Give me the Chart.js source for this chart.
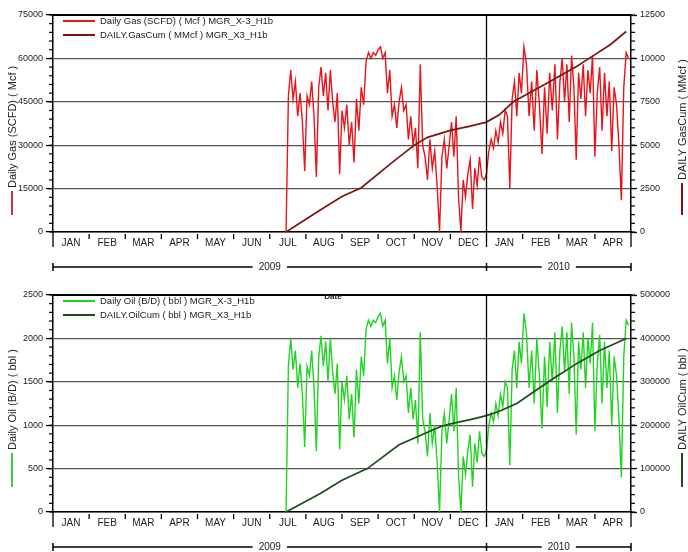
<!DOCTYPE html>
<html>
<head>
<meta charset="utf-8">
<script src="https://cdn.jsdelivr.net/npm/chart.js@4.4.1/dist/chart.umd.min.js"></script>
<style>
  html, body { margin: 0; padding: 0; background: #fff; }
  #wrap { position: relative; width: 688px; height: 552px; overflow: hidden; }
  #wrap canvas { position: absolute; left: 0; }
  #gasChart { top: 0; }
  #oilChart { top: 276px; }
</style>
</head>
<body>
<div id="wrap">
  <canvas id="gasChart" width="688" height="276"></canvas>
  <canvas id="oilChart" width="688" height="276"></canvas>
</div>
<script>
// Month slots along the time axis: Jan 2009 .. Apr 2010
const monthLabels = ['JAN','FEB','MAR','APR','MAY','JUN','JUL','AUG','SEP','OCT','NOV','DEC','JAN','FEB','MAR','APR'];
const yearLabels = ['2009', '2010'];

// Daily rates, one value every second day from the start date
const dailyStart = '2009-07-15';
const dailyStepDays = 2;

// Daily gas (Mcf)
const gasDaily = [
  // Jul 2009
  0, 47000, 56000, 46000, 52000, 40000, 48000, 38000, 21000,
  // Aug
  47000, 44000, 52000, 40000, 19000, 50000, 57000, 47000, 55000, 42000, 56000, 45000, 38000, 48000, 20000,
  // Sep
  42000, 36000, 44000, 30000, 38000, 24000, 46000, 35000, 50000, 44000, 59000, 62000, 60000, 62000, 61000,
  // Oct
  63000, 64000, 60000, 62000, 48000, 56000, 40000, 44000, 36000, 45000, 50000, 42000, 44000, 32000, 40000, 30000,
  // Nov
  36000, 22000, 58000, 30000, 26000, 18000, 32000, 22000, 28000, 16000, 0, 26000, 32000, 22000, 30000,
  // Dec
  38000, 26000, 40000, 12000, 0, 18000, 12000, 20000, 25000, 8000, 22000, 16000, 26000, 19000, 18000,
  // Jan 2010
  20000, 28000, 32000, 29000, 35000, 31000, 38000, 34000, 42000, 40000, 15000, 46000, 52000, 40000, 55000, 48000,
  // Feb
  64000, 58000, 40000, 52000, 35000, 56000, 44000, 27000, 50000, 34000, 55000, 42000, 58000, 32000,
  // Mar
  52000, 60000, 45000, 58000, 38000, 61000, 50000, 25000, 55000, 46000, 58000, 40000, 56000, 48000, 61000,
  // Apr
  26000, 48000, 57000, 35000, 55000, 40000, 52000, 28000, 50000, 44000, 30000, 11000, 50000, 62000, 60000
];

// Daily oil (bbl)
const oilDaily = [
  // Jul 2009
  0, 1680, 2000, 1640, 1860, 1430, 1710, 1360, 750,
  // Aug
  1680, 1570, 1860, 1430, 700, 1790, 2030, 1680, 1960, 1500, 2000, 1610, 1360, 1710, 720,
  // Sep
  1500, 1290, 1570, 1070, 1360, 860, 1640, 1250, 1790, 1570, 2110, 2210, 2140, 2210, 2180,
  // Oct
  2250, 2290, 2140, 2210, 1710, 2000, 1430, 1570, 1290, 1610, 1790, 1500, 1570, 1140, 1430, 1070,
  // Nov
  1290, 790, 2070, 1070, 930, 640, 1140, 790, 1000, 570, 0, 930, 1140, 790, 1070,
  // Dec
  1360, 930, 1430, 430, 0, 640, 430, 710, 890, 290, 790, 570, 930, 680, 640,
  // Jan 2010
  710, 1000, 1140, 1040, 1250, 1110, 1360, 1210, 1500, 1430, 540, 1640, 1860, 1430, 1960, 1710,
  // Feb
  2290, 2070, 1430, 1860, 1250, 2000, 1570, 960, 1790, 1210, 1960, 1500, 2070, 1140,
  // Mar
  1860, 2140, 1610, 2070, 1360, 2180, 1790, 890, 1960, 1640, 2070, 1430, 2000, 1710, 2180,
  // Apr
  930, 1710, 2040, 1250, 1960, 1430, 1860, 1000, 1790, 1570, 1070, 400, 1790, 2210, 2150
];

// Cumulative gas (MMcf)
const gasCumDates = ['2009-07-15','2009-08-13','2009-09-01','2009-09-17','2009-10-11','2009-11-01','2009-11-12',
  '2009-12-01','2009-12-18','2010-01-01','2010-01-12','2010-01-24','2010-02-17','2010-03-17','2010-03-27',
  '2010-04-14','2010-04-27'];
const gasCum = [0, 1250, 2050, 2550, 3900, 5000, 5450, 5850, 6100, 6330, 6750, 7500, 8450, 9560, 10000, 10800, 11550];

// Cumulative oil (bbl)
const oilCumDates = ['2009-07-15','2009-08-13','2009-09-01','2009-09-22','2009-10-19','2009-11-23','2009-12-01',
  '2009-12-18','2010-01-01','2010-01-12','2010-01-27','2010-02-23','2010-03-17','2010-04-05','2010-04-27'];
const oilCum = [0, 42000, 73000, 100000, 155000, 197000, 203000, 213000, 222000, 232000, 250000, 304000,
  343000, 372000, 400000];

const FONT = "'Liberation Sans', Arial, sans-serif";
const TEXT = '#222';

function parseDate(s) {
  const [y, m, d] = s.split('-').map(Number);
  return new Date(Date.UTC(y, m - 1, d));
}
// Position on the axis in month slots (each month is one equal-width slot)
function monthPosition(date) {
  const y = date.getUTCFullYear(), m = date.getUTCMonth(), d = date.getUTCDate();
  const days = new Date(Date.UTC(y, m + 1, 0)).getUTCDate();
  return (y - 2009) * 12 + m + (d - 1) / days;
}
function dailyPoints(values) {
  const t0 = parseDate(dailyStart).getTime();
  return values.map((v, i) => ({ x: monthPosition(new Date(t0 + i * dailyStepDays * 86400000)), y: v }));
}
function datedPoints(dates, values) {
  return dates.map((s, i) => ({ x: monthPosition(parseDate(s)), y: values[i] }));
}

function seg(ctx, x1, y1, x2, y2) {
  ctx.beginPath(); ctx.moveTo(x1, y1); ctx.lineTo(x2, y2); ctx.stroke();
}

// Frame, minor ticks, year bar, in-plot legend and axis titles
function decorPlugin(cfg) {
  return {
    id: 'decor',
    afterDraw(chart) {
      const { ctx, chartArea: a, scales } = chart;
      const xs = scales.x, yl = scales.y, yr = scales.y2;
      ctx.save();
      ctx.strokeStyle = '#000';
      ctx.lineCap = 'butt';

      // top edge of the plot
      ctx.lineWidth = 2;
      seg(ctx, a.left, a.top, a.right, a.top);

      // year boundaries run down past the month labels
      ctx.lineWidth = 1.3;
      [0, 12, 16].forEach(v => {
        const px = xs.getPixelForValue(v);
        seg(ctx, px, v === 12 ? a.top : a.bottom, px, a.bottom + 15);
      });

      // month separators
      for (let m = 1; m < 16; m++) {
        if (m === 12) continue;
        const px = xs.getPixelForValue(m);
        seg(ctx, px, a.bottom + 2, px, a.bottom + 7);
      }

      // minor ticks on both value axes
      ctx.lineWidth = 1.2;
      for (let v = 0; v <= yl.max; v += cfg.leftMinor) {
        const py = yl.getPixelForValue(v);
        seg(ctx, a.left - 4, py, a.left, py);
      }
      for (let v = 0; v <= yr.max; v += cfg.rightMinor) {
        const py = yr.getPixelForValue(v);
        seg(ctx, a.right, py, a.right + 4, py);
      }

      // year bar under the month labels
      const yb = a.bottom + 35;
      ctx.font = '10px ' + FONT;
      ctx.fillStyle = TEXT;
      ctx.textAlign = 'center';
      ctx.textBaseline = 'middle';
      ctx.lineWidth = 1.5;
      [[0, 12], [12, 16]].forEach(([s, e], i) => {
        const x1 = xs.getPixelForValue(s), x2 = xs.getPixelForValue(e);
        const cx = xs.getPixelForValue((s + e) / 2);
        const w = ctx.measureText(yearLabels[i]).width;
        seg(ctx, x1, yb, cx - w / 2 - 6, yb);
        seg(ctx, cx + w / 2 + 6, yb, x2, yb);
        ctx.fillText(yearLabels[i], cx, yb + 0.5);
      });
      [0, 12, 16].forEach(v => {
        const px = xs.getPixelForValue(v);
        seg(ctx, px, yb - 4, px, yb + 4);
      });

      // legend inside the plot, top-left
      ctx.textAlign = 'left';
      ctx.font = '9.5px ' + FONT;
      chart.data.datasets.forEach((ds, i) => {
        const ly = a.top + 6 + i * 14;
        ctx.strokeStyle = ds.borderColor;
        ctx.lineWidth = 2;
        seg(ctx, a.left + 10, ly, a.left + 42, ly);
        ctx.fillStyle = TEXT;
        ctx.fillText(ds.label, a.left + 47, ly + 0.5);
      });

      // rotated axis titles with their line keys
      cfg.titles.forEach(t => {
        const ds = chart.data.datasets[t.dataset];
        ctx.strokeStyle = t.keyColor || ds.borderColor;
        ctx.lineWidth = 2;
        seg(ctx, t.x, a.bottom - t.keyFrom, t.x, a.bottom - t.keyTo);
        ctx.save();
        ctx.translate(t.x, a.bottom - t.keyTo - 3);
        ctx.rotate(-Math.PI / 2);
        ctx.font = '11px ' + FONT;
        ctx.fillStyle = TEXT;
        ctx.textAlign = 'left';
        ctx.textBaseline = 'middle';
        ctx.fillText(t.text, 0, 0.5);
        ctx.restore();
      });

      if (cfg.note) {
        ctx.font = 'bold 8px ' + FONT;
        ctx.fillStyle = TEXT;
        ctx.textAlign = 'center';
        ctx.textBaseline = 'middle';
        ctx.fillText(cfg.note.text, cfg.note.x, a.top + cfg.note.dy);
      }
      ctx.restore();
    }
  };
}

const tickFont = { family: FONT, size: 9 };
const plainNumber = v => String(v);

function buildChart(id, spec) {
  return new Chart(document.getElementById(id), {
    type: 'line',
    data: {
      datasets: [
        {
          label: spec.dailyLabel, data: dailyPoints(spec.daily), yAxisID: 'y',
          borderColor: spec.dailyColor, borderWidth: 1.4, order: 1
        },
        {
          label: spec.cumLabel, data: datedPoints(spec.cumDates, spec.cum), yAxisID: 'y2',
          borderColor: spec.cumColor, borderWidth: 1.7, order: 0
        }
      ]
    },
    options: {
      responsive: false,
      animation: false,
      elements: { point: { radius: 0 }, line: { tension: 0 } },
      layout: { padding: { top: spec.padTop, left: 0, right: 0, bottom: 0 } },
      plugins: { legend: { display: false }, tooltip: { enabled: false } },
      scales: {
        x: {
          type: 'linear', position: 'bottom', min: 0, max: 16,
          grid: { display: false, drawTicks: false },
          border: { display: true, color: '#000', width: 1.5 },
          ticks: {
            autoSkip: false, maxRotation: 0, padding: 5,
            font: { family: FONT, size: 10 }, color: TEXT,
            callback: (v, i) => monthLabels[i]
          },
          afterBuildTicks: s => { s.ticks = monthLabels.map((_, i) => ({ value: i + 0.5 })); },
          afterFit: s => { s.height = spec.xAxisHeight; }
        },
        y: {
          type: 'linear', position: 'left', min: 0, max: spec.leftMax,
          ticks: { stepSize: spec.leftStep, padding: 3, font: tickFont, color: TEXT, callback: plainNumber },
          grid: { color: '#555', lineWidth: 1.2, drawTicks: true, tickLength: 7, tickColor: '#000', tickWidth: 1.3 },
          border: { display: true, color: '#000', width: 1.5 },
          afterFit: s => { s.width = 53; }
        },
        y2: {
          type: 'linear', position: 'right', min: 0, max: spec.rightMax,
          ticks: { stepSize: spec.rightStep, padding: 3, font: tickFont, color: TEXT, callback: plainNumber },
          grid: { drawOnChartArea: false, drawTicks: true, tickLength: 6, tickColor: '#000', tickWidth: 1.3 },
          border: { display: true, color: '#000', width: 1.5 },
          afterFit: s => { s.width = 57; }
        }
      }
    },
    plugins: [decorPlugin(spec.decor)]
  });
}

buildChart('gasChart', {
  dailyLabel: 'Daily Gas (SCFD) ( Mcf ) MGR_X-3_H1b',
  cumLabel: 'DAILY.GasCum ( MMcf ) MGR_X3_H1b',
  daily: gasDaily, cumDates: gasCumDates, cum: gasCum,
  dailyColor: '#e8141a', cumColor: '#7d1414',
  leftMax: 75000, leftStep: 15000, rightMax: 12500, rightStep: 2500,
  padTop: 15, xAxisHeight: 44,
  decor: {
    leftMinor: 3000, rightMinor: 500,
    titles: [
      { dataset: 0, text: 'Daily Gas (SCFD) ( Mcf )', x: 12, keyFrom: 17, keyTo: 41, keyColor: '#c8343a' },
      { dataset: 1, text: 'DAILY GasCum ( MMcf )', x: 682, keyFrom: 17, keyTo: 49 }
    ]
  }
});

buildChart('oilChart', {
  dailyLabel: 'Daily Oil (B/D) ( bbl ) MGR_X-3_H1b',
  cumLabel: 'DAILY.OilCum ( bbl ) MGR_X3_H1b',
  daily: oilDaily, cumDates: oilCumDates, cum: oilCum,
  dailyColor: '#22d422', cumColor: '#1d4a1d',
  leftMax: 2500, leftStep: 500, rightMax: 500000, rightStep: 100000,
  padTop: 19, xAxisHeight: 40,
  decor: {
    leftMinor: 100, rightMinor: 20000,
    titles: [
      { dataset: 0, text: 'Daily Oil (B/D) ( bbl )', x: 12, keyFrom: 25, keyTo: 59, keyColor: '#3ccf3c' },
      { dataset: 1, text: 'DAILY OilCum ( bbl )', x: 682, keyFrom: 25, keyTo: 59 }
    ],
    note: { text: 'Date', x: 333, dy: 2 }
  }
});
</script>
</body>
</html>
